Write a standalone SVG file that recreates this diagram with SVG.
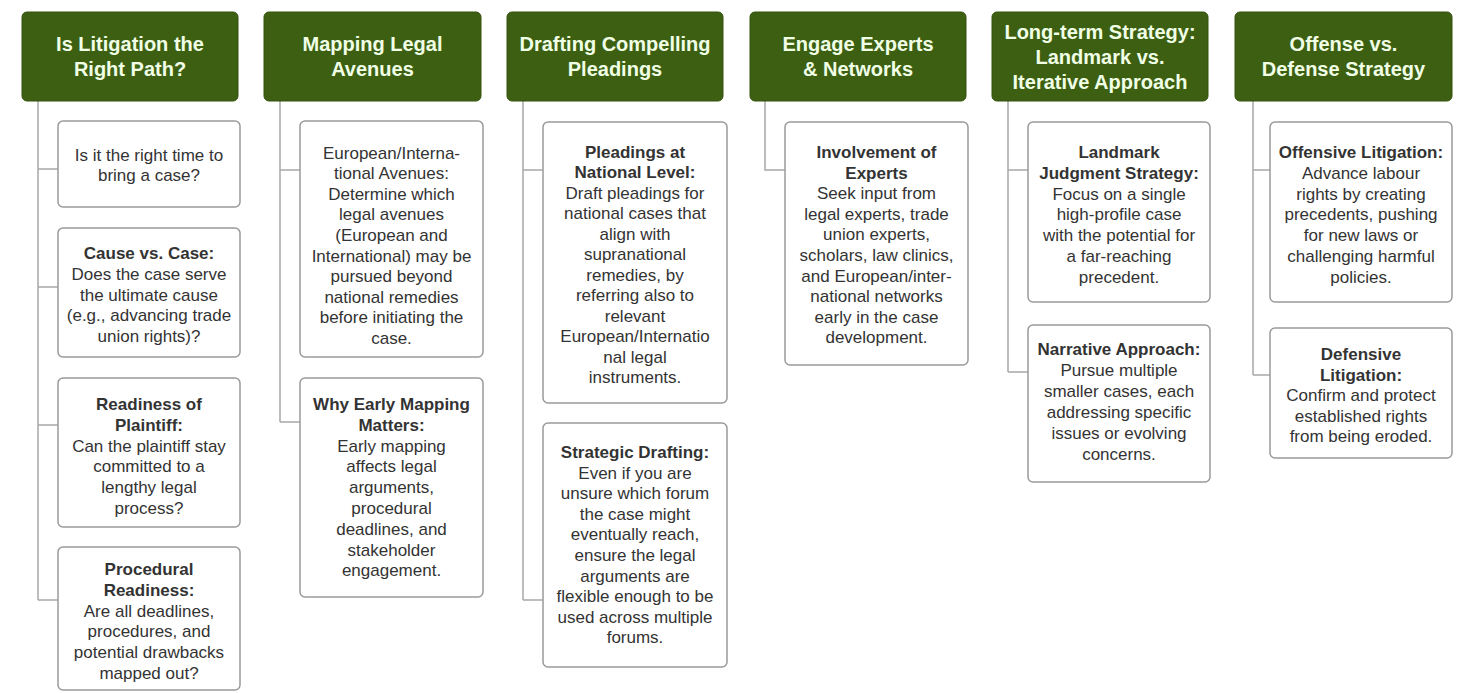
<svg xmlns="http://www.w3.org/2000/svg" width="1462" height="693" viewBox="0 0 1462 693">
<style>
.hdr{fill:#3d5f12;stroke:#34520c;stroke-width:1}
.htx{font-family:"Liberation Sans",Arial,sans-serif;font-weight:bold;font-size:20px;fill:#f0ffe6;text-anchor:middle}
.box{fill:#ffffff;stroke:#9a9a9a;stroke-width:1.5}
.btx{font-family:"Liberation Sans",Arial,sans-serif;font-size:17px;fill:#333333;text-anchor:middle}
.b{font-weight:bold}
.con{fill:none;stroke:#a8a8a8;stroke-width:1.5}
</style>
<rect width="1462" height="693" fill="#ffffff"/>
<g id="connectors">
<path class="con" d="M38 101V600M38 169H58M38 287H58M38 425H58M38 600H58"/>
<path class="con" d="M280 101V422M280 170H300M280 422H300"/>
<path class="con" d="M523 101V600M523 170H543M523 600H543"/>
<path class="con" d="M765 101V170H785"/>
<path class="con" d="M1008 101V372M1008 170H1028M1008 372H1028"/>
<path class="con" d="M1253 101V375M1253 170H1270M1253 375H1270"/>
</g>
<g id="h1"><rect class="hdr" x="22" y="12" width="216" height="89" rx="5"/><text class="htx" y="51"><tspan x="130">Is Litigation the</tspan><tspan x="130" dy="25">Right Path?</tspan></text></g>
<g id="h2"><rect class="hdr" x="264" y="12" width="217" height="89" rx="5"/><text class="htx" y="51"><tspan x="372.5">Mapping Legal</tspan><tspan x="372.5" dy="25">Avenues</tspan></text></g>
<g id="h3"><rect class="hdr" x="507" y="12" width="216" height="89" rx="5"/><text class="htx" y="51"><tspan x="615">Drafting Compelling</tspan><tspan x="615" dy="25">Pleadings</tspan></text></g>
<g id="h4"><rect class="hdr" x="750" y="12" width="216" height="89" rx="5"/><text class="htx" y="51"><tspan x="858">Engage Experts</tspan><tspan x="858" dy="25">&amp; Networks</tspan></text></g>
<g id="h5"><rect class="hdr" x="992" y="12" width="216" height="89" rx="5"/><text class="htx" y="38.5"><tspan x="1100">Long-term Strategy:</tspan><tspan x="1100" dy="25">Landmark vs.</tspan><tspan x="1100" dy="25">Iterative Approach</tspan></text></g>
<g id="h6"><rect class="hdr" x="1235" y="12" width="217" height="89" rx="5"/><text class="htx" y="51"><tspan x="1343.5">Offense vs.</tspan><tspan x="1343.5" dy="25">Defense Strategy</tspan></text></g>

<g id="c1n1"><rect class="box" x="58" y="121" width="182" height="86" rx="5"/><text class="btx" y="160.5"><tspan x="149">Is it the right time to</tspan><tspan x="149" dy="20.8">bring a case?</tspan></text></g>
<g id="c1n2"><rect class="box" x="58" y="228" width="182" height="129" rx="5"/><text class="btx" y="259"><tspan x="149" class="b">Cause vs. Case:</tspan><tspan x="149" dy="20.8">Does the case serve</tspan><tspan x="149" dy="20.8">the ultimate cause</tspan><tspan x="149" dy="20.8">(e.g., advancing trade</tspan><tspan x="149" dy="20.8">union rights)?</tspan></text></g>
<g id="c1n3"><rect class="box" x="58" y="378" width="182" height="149" rx="5"/><text class="btx" y="410"><tspan x="149" class="b">Readiness of</tspan><tspan x="149" dy="20.8" class="b">Plaintiff:</tspan><tspan x="149" dy="20.8">Can the plaintiff stay</tspan><tspan x="149" dy="20.8">committed to a</tspan><tspan x="149" dy="20.8">lengthy legal</tspan><tspan x="149" dy="20.8">process?</tspan></text></g>
<g id="c1n4"><rect class="box" x="58" y="547" width="182" height="143" rx="5"/><text class="btx" y="575"><tspan x="149" class="b">Procedural</tspan><tspan x="149" dy="20.8" class="b">Readiness:</tspan><tspan x="149" dy="20.8">Are all deadlines,</tspan><tspan x="149" dy="20.8">procedures, and</tspan><tspan x="149" dy="20.8">potential drawbacks</tspan><tspan x="149" dy="20.8">mapped out?</tspan></text></g>

<g id="c2n1"><rect class="box" x="300" y="121" width="183" height="236" rx="5"/><text class="btx" y="158.5"><tspan x="391.5">European/Interna-</tspan><tspan x="391.5" dy="20.6">tional Avenues:</tspan><tspan x="391.5" dy="20.6">Determine which</tspan><tspan x="391.5" dy="20.6">legal avenues</tspan><tspan x="391.5" dy="20.6">(European and</tspan><tspan x="391.5" dy="20.6">International) may be</tspan><tspan x="391.5" dy="20.6">pursued beyond</tspan><tspan x="391.5" dy="20.6">national remedies</tspan><tspan x="391.5" dy="20.6">before initiating the</tspan><tspan x="391.5" dy="20.6">case.</tspan></text></g>
<g id="c2n2"><rect class="box" x="300" y="378" width="183" height="219" rx="5"/><text class="btx" y="410"><tspan x="391.5" class="b">Why Early Mapping</tspan><tspan x="391.5" dy="20.8" class="b">Matters:</tspan><tspan x="391.5" dy="20.8">Early mapping</tspan><tspan x="391.5" dy="20.8">affects legal</tspan><tspan x="391.5" dy="20.8">arguments,</tspan><tspan x="391.5" dy="20.8">procedural</tspan><tspan x="391.5" dy="20.8">deadlines, and</tspan><tspan x="391.5" dy="20.8">stakeholder</tspan><tspan x="391.5" dy="20.8">engagement.</tspan></text></g>

<g id="c3n1"><rect class="box" x="543" y="122" width="184" height="281" rx="5"/><text class="btx" y="157.5"><tspan x="635" class="b">Pleadings at</tspan><tspan x="635" dy="20.5" class="b">National Level:</tspan><tspan x="635" dy="20.5">Draft pleadings for</tspan><tspan x="635" dy="20.5">national cases that</tspan><tspan x="635" dy="20.5">align with</tspan><tspan x="635" dy="20.5">supranational</tspan><tspan x="635" dy="20.5">remedies, by</tspan><tspan x="635" dy="20.5">referring also to</tspan><tspan x="635" dy="20.5">relevant</tspan><tspan x="635" dy="20.5">European/Internatio</tspan><tspan x="635" dy="20.5">nal legal</tspan><tspan x="635" dy="20.5">instruments.</tspan></text></g>
<g id="c3n2"><rect class="box" x="543" y="423" width="184" height="244" rx="5"/><text class="btx" y="458"><tspan x="635" class="b">Strategic Drafting:</tspan><tspan x="635" dy="20.6">Even if you are</tspan><tspan x="635" dy="20.6">unsure which forum</tspan><tspan x="635" dy="20.6">the case might</tspan><tspan x="635" dy="20.6">eventually reach,</tspan><tspan x="635" dy="20.6">ensure the legal</tspan><tspan x="635" dy="20.6">arguments are</tspan><tspan x="635" dy="20.6">flexible enough to be</tspan><tspan x="635" dy="20.6">used across multiple</tspan><tspan x="635" dy="20.6">forums.</tspan></text></g>

<g id="c4n1"><rect class="box" x="785" y="122" width="183" height="243" rx="5"/><text class="btx" y="158"><tspan x="876.5" class="b">Involvement of</tspan><tspan x="876.5" dy="20.6" class="b">Experts</tspan><tspan x="876.5" dy="20.6">Seek input from</tspan><tspan x="876.5" dy="20.6">legal experts, trade</tspan><tspan x="876.5" dy="20.6">union experts,</tspan><tspan x="876.5" dy="20.6">scholars, law clinics,</tspan><tspan x="876.5" dy="20.6">and European/inter-</tspan><tspan x="876.5" dy="20.6">national networks</tspan><tspan x="876.5" dy="20.6">early in the case</tspan><tspan x="876.5" dy="20.6">development.</tspan></text></g>

<g id="c5n1"><rect class="box" x="1028" y="122" width="182" height="180" rx="5"/><text class="btx" y="158"><tspan x="1119" class="b">Landmark</tspan><tspan x="1119" dy="20.8" class="b">Judgment Strategy:</tspan><tspan x="1119" dy="20.8">Focus on a single</tspan><tspan x="1119" dy="20.8">high-profile case</tspan><tspan x="1119" dy="20.8">with the potential for</tspan><tspan x="1119" dy="20.8">a far-reaching</tspan><tspan x="1119" dy="20.8">precedent.</tspan></text></g>
<g id="c5n2"><rect class="box" x="1028" y="325" width="182" height="157" rx="5"/><text class="btx" y="355"><tspan x="1119" class="b">Narrative Approach:</tspan><tspan x="1119" dy="21">Pursue multiple</tspan><tspan x="1119" dy="21">smaller cases, each</tspan><tspan x="1119" dy="21">addressing specific</tspan><tspan x="1119" dy="21">issues or evolving</tspan><tspan x="1119" dy="21">concerns.</tspan></text></g>

<g id="c6n1"><rect class="box" x="1270" y="122" width="182" height="180" rx="5"/><text class="btx" y="158"><tspan x="1361" class="b">Offensive Litigation:</tspan><tspan x="1361" dy="20.8">Advance labour</tspan><tspan x="1361" dy="20.8">rights by creating</tspan><tspan x="1361" dy="20.8">precedents, pushing</tspan><tspan x="1361" dy="20.8">for new laws or</tspan><tspan x="1361" dy="20.8">challenging harmful</tspan><tspan x="1361" dy="20.8">policies.</tspan></text></g>
<g id="c6n2"><rect class="box" x="1270" y="328" width="182" height="130" rx="5"/><text class="btx" y="360"><tspan x="1361" class="b">Defensive</tspan><tspan x="1361" dy="20.6" class="b">Litigation:</tspan><tspan x="1361" dy="20.6">Confirm and protect</tspan><tspan x="1361" dy="20.6">established rights</tspan><tspan x="1361" dy="20.6">from being eroded.</tspan></text></g>
</svg>
